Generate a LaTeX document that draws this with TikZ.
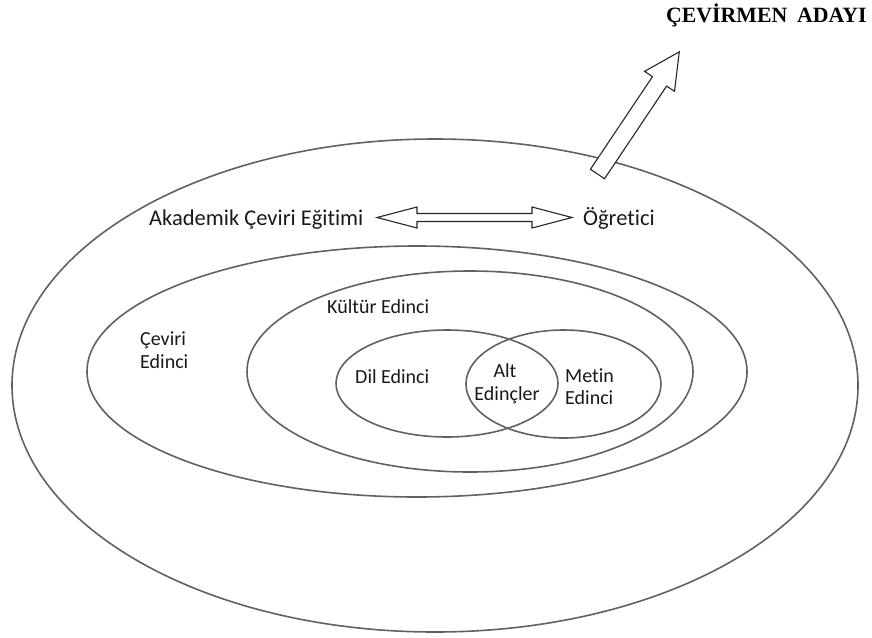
\documentclass[tikz,border=0pt]{standalone}
\usepackage{fontspec}
\setmainfont{Carlito}[Ligatures=NoCommon]
\newfontfamily\titlefont{Liberation Serif}
\usetikzlibrary{calc}
\definecolor{ellcol}{gray}{0.38}
\definecolor{txtcol}{gray}{0.1}
\tikzset{
  ring/.style={draw=ellcol, line width=1.6pt},
  blockarrow/.style={draw=black!85, fill=white, line width=1.1pt, line join=miter},
  lbl/.style={inner sep=0pt, text=txtcol, font=\fontsize{20}{23}\selectfont},
  biglbl/.style={inner sep=0pt, text=txtcol, font=\fontsize{22.5}{26}\selectfont},
  titlelbl/.style={inner sep=0pt, text=black, font=\titlefont\bfseries\fontsize{21.8}{24}\selectfont},
}
\begin{document}
\begin{tikzpicture}[x=1pt,y=-1pt]
\useasboundingbox (0,0) rectangle (872,637);
% ellipses
\coordinate (outerC) at (435,385.5);
\coordinate (cevC) at (417,371.5);
\coordinate (kulC) at (470,371.5);
\coordinate (dilC) at (447,383.5);
\coordinate (metC) at (563.5,384);
\draw[ring] (outerC) ellipse [x radius=423pt, y radius=246.5pt];
\draw[ring] (cevC) ellipse [x radius=330pt, y radius=125.5pt];
\draw[ring] (kulC) ellipse [x radius=223pt, y radius=100.5pt];
\draw[ring] (dilC) ellipse [x radius=111pt, y radius=53.5pt];
\draw[ring] (metC) ellipse [x radius=97.5pt, y radius=54pt];
% labels
\node[biglbl, anchor=base west] (akad) at (149,225) {Akademik Çeviri Eğitimi};
\node[biglbl, anchor=base west] (ogr) at (583,225) {Öğretici};
\node[lbl, anchor=base west] (cev1) at (140,345) {Çeviri};
\node[lbl, anchor=base west] (cev2) at (140,368) {Edinci};
\node[lbl, anchor=base west] (kul) at (327,313) {Kültür Edinci};
\node[lbl, anchor=base west] (dil) at (355,383) {Dil Edinci};
\node[lbl, anchor=base] (alt1) at (505,377) {Alt};
\node[lbl, anchor=base] (alt2) at (507,400) {Edinçler};
\node[lbl, anchor=base west] (met1) at (565,382) {Metin};
\node[lbl, anchor=base west] (met2) at (565,404) {Edinci};
\node[titlelbl, anchor=base west] (title) at (666,22) {ÇEVİRMEN\hspace{0.45em}ADAYI};
% double arrow between Akademik Çeviri Eğitimi and Öğretici
\coordinate (dL) at (377,217.5);
\coordinate (dR) at (572,217.5);
\draw[blockarrow] (dL) -- ++(40,-10.5) -- ++(0,6.5) -- ++(115,0) -- ++(0,-6.5) -- (dR)
  -- ++(-40,10.5) -- ++(0,-6.5) -- ++(-115,0) -- ++(0,6.5) -- cycle;
% block arrow up to ÇEVİRMEN ADAYI
\coordinate (uTail) at (597.5,174);
\begin{scope}[shift={(uTail)}, rotate=56.2]
\draw[blockarrow] (0,-8.5) -- (111.5,-8.5) -- (111.5,-18) -- (147,0) -- (111.5,18) -- (111.5,8.5) -- (0,8.5) -- cycle;
\end{scope}
\end{tikzpicture}
\end{document}
